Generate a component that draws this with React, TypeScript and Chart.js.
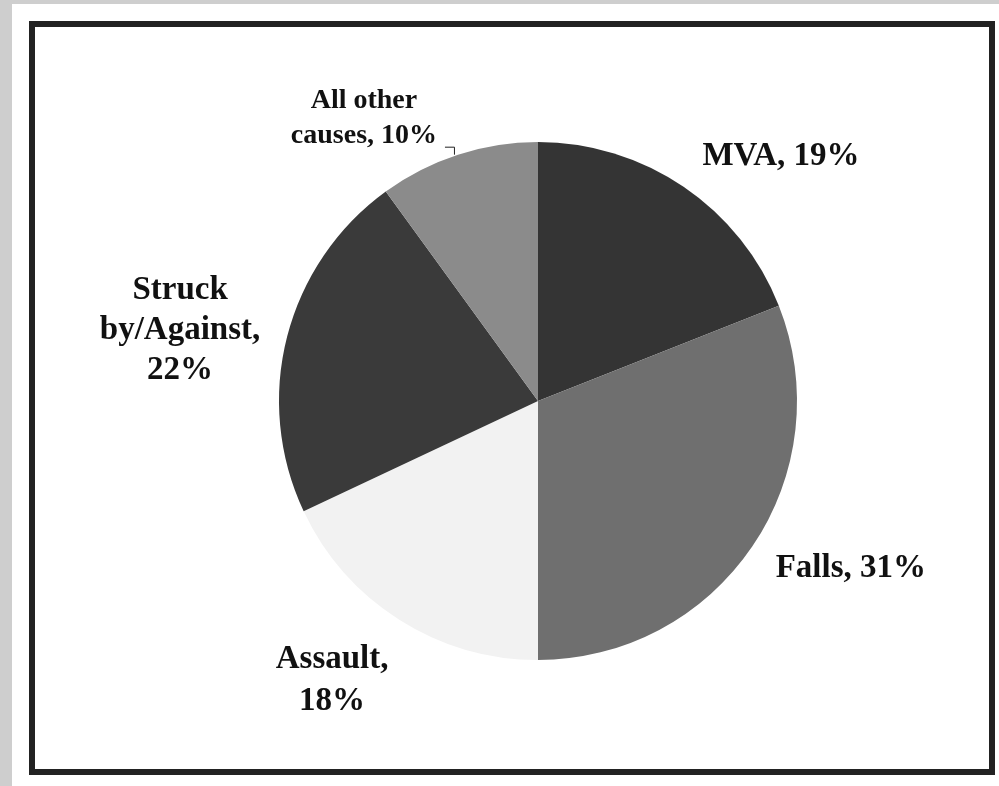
import React, { useEffect, useRef } from 'react';
import { Chart, registerables } from 'chart.js';

Chart.register(...registerables);

// ---- data ----
const categories = ['MVA', 'Falls', 'Assault', 'Struck by/Against', 'All other causes'];
const values = [19, 31, 18, 22, 10];
const colors = ['#343434', '#6f6f6f', '#f2f2f2', '#3a3a3a', '#8b8b8b'];
const labelLines = [
  ['MVA, {v}%'],
  ['Falls, {v}%'],
  ['Assault,', '{v}%'],
  ['Struck', 'by/Against,', '{v}%'],
  ['All other', 'causes, {v}%'],
];

// ---- label layout (relative to pie centre, in units of the radius) ----
const labelLayout = [
  { dx: 0.938, dy: -0.911, size: 33, lh: 40 },
  { dx: 1.208, dy: 0.68, size: 33, lh: 40 },
  { dx: -0.795, dy: 1.031, size: 33, lh: 42 },
  { dx: -1.382, dy: -0.394, size: 33, lh: 40 },
  { dx: -0.672, dy: -1.131, size: 28, lh: 35 },
];

const labelPlugin = {
  id: 'sliceLabels',
  afterDatasetsDraw(chart: any) {
    const meta = chart.getDatasetMeta(0);
    if (!meta || !meta.data.length) return;
    const first = meta.data[0].getProps(['x', 'y', 'outerRadius'], true);
    const cx = first.x;
    const cy = first.y;
    const R = first.outerRadius;
    const ctx = chart.ctx;
    ctx.save();
    ctx.fillStyle = '#111111';
    ctx.textAlign = 'center';
    ctx.textBaseline = 'alphabetic';
    labelLines.forEach((lines, i) => {
      const lay = labelLayout[i];
      ctx.font = `bold ${lay.size}px "Liberation Serif", "Times New Roman", serif`;
      const x = cx + lay.dx * R;
      let y = cy + lay.dy * R;
      lines.forEach((ln) => {
        ctx.fillText(ln.replace('{v}', String(values[i])), x, y);
        y += lay.lh;
      });
    });
    // leader line for "All other causes"
    const a = meta.data[4].getProps(['startAngle', 'endAngle'], true);
    const mid = (a.startAngle + a.endAngle) / 2;
    const px = cx + Math.cos(mid) * R - 4;
    const py = cy + Math.sin(mid) * R;
    ctx.strokeStyle = '#222222';
    ctx.lineWidth = 1;
    ctx.beginPath();
    ctx.moveTo(px + 0.5, py);
    ctx.lineTo(px + 0.5, py - 7.5);
    ctx.lineTo(px - 9, py - 7.5);
    ctx.stroke();
    ctx.restore();
  },
};

export default function App() {
  const ref = useRef<HTMLCanvasElement | null>(null);

  useEffect(() => {
    if (!ref.current) return;
    const chart = new Chart(ref.current, {
      type: 'pie',
      data: {
        labels: categories,
        datasets: [
          {
            data: values,
            backgroundColor: colors,
            borderWidth: 0,
          },
        ],
      },
      options: {
        responsive: false,
        maintainAspectRatio: false,
        animation: false,
        devicePixelRatio: 1,
        layout: { padding: { top: 142, bottom: 126, left: 279, right: 202 } },
        plugins: {
          legend: { display: false },
          tooltip: { enabled: false },
          title: { display: false },
        },
      },
      plugins: [labelPlugin],
    });
    return () => chart.destroy();
  }, []);

  return (
    <div
      style={{
        position: 'absolute',
        left: 0,
        top: 0,
        width: 999,
        height: 786,
        background: '#cecece',
        overflow: 'hidden',
      }}
    >
      <div
        style={{
          position: 'absolute',
          left: 12,
          top: 4,
          width: 987,
          height: 782,
          background: '#ffffff',
        }}
      />
      <div
        style={{
          position: 'absolute',
          left: 29,
          top: 21,
          width: 966,
          height: 754,
          border: '6px solid #222222',
          boxSizing: 'border-box',
        }}
      />
      <canvas
        ref={ref}
        width={999}
        height={786}
        style={{ position: 'absolute', left: 0, top: 0, width: 999, height: 786 }}
      />
    </div>
  );
}
